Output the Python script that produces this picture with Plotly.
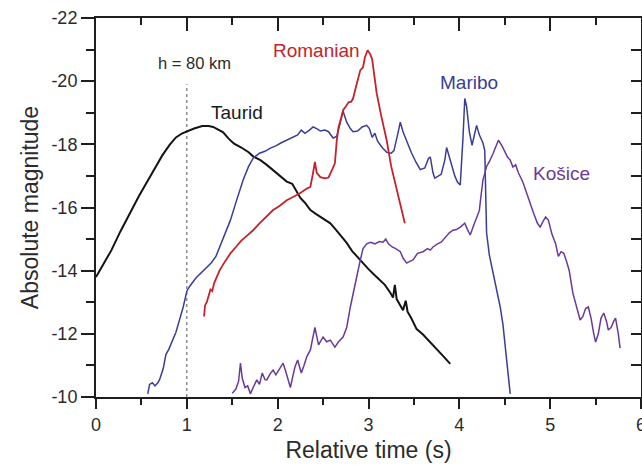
import plotly.graph_objects as go

# Light curves: relative time (s) vs absolute magnitude
taurid_t = [0.00, 0.08, 0.17, 0.27, 0.37, 0.47, 0.59, 0.66, 0.73, 0.81, 0.88, 0.95, 1.01, 1.08,
            1.17, 1.24, 1.29, 1.35, 1.40, 1.46, 1.52, 1.60, 1.68, 1.73, 1.81, 1.88, 1.94, 1.99,
            2.06, 2.10, 2.16, 2.20, 2.25, 2.30, 2.36, 2.42, 2.47, 2.53, 2.58, 2.64, 2.70, 2.76,
            2.82, 2.88, 2.94, 3.00, 3.06, 3.12, 3.18, 3.24, 3.27, 3.29, 3.31, 3.35, 3.38, 3.41,
            3.43, 3.47, 3.53, 3.60, 3.68, 3.75, 3.82, 3.90]
taurid_m = [-13.80, -14.20, -14.65, -15.25, -15.80, -16.35, -16.95, -17.30, -17.65, -17.98,
            -18.22, -18.35, -18.42, -18.50, -18.58, -18.58, -18.55, -18.45, -18.38, -18.18,
            -18.02, -17.90, -17.75, -17.62, -17.50, -17.35, -17.20, -17.09, -16.92, -16.82,
            -16.75, -16.55, -16.30, -16.15, -15.92, -15.80, -15.70, -15.60, -15.50, -15.30,
            -15.10, -14.88, -14.62, -14.42, -14.24, -14.05, -13.88, -13.72, -13.55, -13.30,
            -13.15, -13.55, -13.10, -12.90, -12.75, -13.05, -12.70, -12.50, -12.15, -11.98,
            -11.72, -11.50, -11.30, -11.05]

maribo_t = [0.57, 0.59, 0.62, 0.65, 0.68, 0.70, 0.74, 0.77, 0.80, 0.84, 0.88, 0.92, 0.96, 1.00,
            1.03, 1.10, 1.18, 1.27, 1.32, 1.37, 1.42, 1.48, 1.55, 1.62, 1.68, 1.73, 1.80, 1.86,
            1.92, 1.98, 2.04, 2.10, 2.16, 2.22, 2.26, 2.30, 2.35, 2.39, 2.43, 2.47, 2.52, 2.56,
            2.61, 2.65, 2.69, 2.72, 2.76, 2.80, 2.83, 2.88, 2.93, 2.98, 3.01, 3.04, 3.07, 3.10,
            3.15, 3.20, 3.25, 3.28, 3.32, 3.35, 3.38, 3.42, 3.47, 3.52, 3.57, 3.62, 3.66, 3.68,
            3.71, 3.73, 3.77, 3.80, 3.84, 3.86, 3.89, 3.92, 3.95, 3.98, 4.01, 4.04, 4.06, 4.08,
            4.11, 4.14, 4.17, 4.19, 4.22, 4.26, 4.28, 4.30, 4.33, 4.36, 4.40, 4.45, 4.48, 4.50,
            4.53, 4.56]
maribo_m = [-10.10, -10.40, -10.45, -10.35, -10.45, -10.55, -10.90, -11.35, -11.50, -11.75,
            -12.05, -12.45, -12.85, -13.35, -13.50, -13.77, -14.00, -14.25, -14.45, -14.80,
            -15.20, -15.60, -16.25, -16.87, -17.30, -17.56, -17.72, -17.78, -17.88, -17.95,
            -18.05, -18.13, -18.20, -18.30, -18.45, -18.35, -18.45, -18.55, -18.50, -18.42,
            -18.45, -18.40, -18.20, -18.25, -18.70, -19.05, -18.70, -18.50, -18.40, -18.42,
            -18.55, -18.60, -18.50, -18.22, -18.35, -18.10, -17.90, -17.75, -17.72, -17.80,
            -18.30, -18.70, -18.40, -18.10, -17.75, -17.45, -17.20, -17.25, -17.55, -17.60,
            -17.10, -16.93, -17.00, -17.05, -17.50, -17.90, -17.60, -17.30, -17.00, -16.80,
            -16.71, -18.20, -19.45, -19.20, -18.40, -17.97, -18.40, -18.60, -18.30, -18.04,
            -17.80, -15.20, -14.50, -14.11, -13.50, -12.85, -12.30, -11.80, -11.00, -10.10]

romanian_t = [1.19, 1.20, 1.22, 1.24, 1.26, 1.28, 1.30, 1.33, 1.36, 1.40, 1.43, 1.48, 1.54, 1.60,
              1.66, 1.73, 1.80, 1.87, 1.95, 2.02, 2.10, 2.18, 2.25, 2.32, 2.36, 2.39, 2.41, 2.43,
              2.47, 2.52, 2.56, 2.60, 2.63, 2.65, 2.67, 2.70, 2.72, 2.75, 2.78, 2.81, 2.83, 2.86,
              2.88, 2.91, 2.94, 2.96, 2.99, 3.02, 3.04, 3.07, 3.09, 3.14, 3.20, 3.25, 3.31, 3.36,
              3.40]
romanian_m = [-12.55, -12.90, -13.00, -13.20, -13.40, -13.35, -13.60, -13.80, -14.00, -14.20,
              -14.34, -14.55, -14.75, -14.95, -15.10, -15.28, -15.50, -15.70, -15.92, -16.05,
              -16.23, -16.35, -16.46, -16.60, -16.65, -17.10, -17.44, -17.10, -16.96, -16.92,
              -16.95, -17.20, -17.40, -18.10, -18.54, -18.85, -19.08, -19.20, -19.33, -19.35,
              -19.45, -19.80, -20.00, -20.35, -20.44, -20.75, -20.98, -20.85, -20.70, -20.10,
              -19.62, -18.90, -18.13, -17.30, -16.55, -16.00, -15.50]

kosice_t = [1.50, 1.54, 1.57, 1.59, 1.61, 1.64, 1.67, 1.70, 1.73, 1.77, 1.80, 1.83, 1.86, 1.88,
            1.92, 1.95, 1.98, 2.03, 2.06, 2.09, 2.12, 2.14, 2.17, 2.19, 2.22, 2.26, 2.29, 2.32,
            2.36, 2.39, 2.41, 2.45, 2.48, 2.50, 2.54, 2.58, 2.63, 2.67, 2.72, 2.76, 2.80, 2.83,
            2.87, 2.91, 2.94, 2.98, 3.02, 3.07, 3.12, 3.16, 3.19, 3.22, 3.26, 3.30, 3.35, 3.38,
            3.42, 3.46, 3.49, 3.54, 3.60, 3.65, 3.68, 3.71, 3.76, 3.80, 3.85, 3.89, 3.93, 3.97,
            4.01, 4.06, 4.09, 4.12, 4.16, 4.19, 4.22, 4.24, 4.26, 4.30, 4.33, 4.37, 4.40, 4.43,
            4.47, 4.50, 4.53, 4.56, 4.59, 4.62, 4.65, 4.70, 4.74, 4.78, 4.82, 4.86, 4.89, 4.92,
            4.95, 4.98, 5.02, 5.06, 5.09, 5.12, 5.15, 5.18, 5.21, 5.25, 5.29, 5.33, 5.36, 5.39,
            5.42, 5.45, 5.48, 5.50, 5.53, 5.56, 5.59, 5.62, 5.64, 5.67, 5.70, 5.72, 5.75, 5.77]
kosice_m = [-10.12, -10.25, -10.50, -11.07, -10.60, -10.30, -10.35, -10.10, -10.30, -10.54,
            -10.40, -10.76, -10.55, -10.54, -10.75, -10.85, -10.70, -10.95, -11.07, -10.80,
            -10.50, -10.30, -10.70, -10.95, -11.17, -10.76, -11.00, -11.27, -11.49, -11.90,
            -12.20, -11.65, -11.80, -11.90, -11.75, -11.80, -11.58, -11.75, -11.90, -12.20,
            -12.85, -13.30, -13.80, -14.34, -14.70, -14.85, -14.90, -14.85, -14.92, -14.90,
            -15.00, -14.85, -14.75, -14.70, -14.60, -14.40, -14.24, -14.30, -14.34, -14.55,
            -14.60, -14.70, -14.65, -14.75, -14.85, -14.90, -15.05, -15.20, -15.28, -15.30,
            -15.38, -15.50, -15.30, -15.13, -15.45, -15.70, -15.90, -16.40, -16.87, -17.30,
            -17.45, -17.70, -17.95, -18.13, -17.95, -17.75, -17.60, -17.50, -17.28, -17.35,
            -17.10, -16.80, -16.45, -16.14, -15.80, -15.50, -15.38, -15.55, -15.70, -15.60,
            -15.15, -14.85, -14.45, -14.60, -14.55, -14.30, -14.00, -13.29, -12.90, -12.44,
            -12.55, -12.80, -12.85, -12.50, -12.00, -11.74, -12.00, -12.50, -12.66, -12.40,
            -12.12, -12.20, -12.40, -12.50, -12.00, -11.55]

# Reference height marker
h80_t = [1.0, 1.0]
h80_m = [-10.0, -19.9]

x_ticks = [0, 1, 2, 3, 4, 5, 6]
x_labels = ["0", "1", "2", "3", "4", "5", "6"]
y_ticks = [-22, -20, -18, -16, -14, -12, -10]
y_labels = ["-22", "-20", "-18", "-16", "-14", "-12", "-10"]

FONT = "Liberation Sans, Arial, Helvetica, sans-serif"
TEXT = "#2b2b2b"
AXIS = "#1e1e1e"

series = [
    ("Taurid", taurid_t, taurid_m, "#141414", 2.0),
    ("Maribo", maribo_t, maribo_m, "#3a3d96", 1.5),
    ("Romanian", romanian_t, romanian_m, "#c4232b", 1.8),
    ("Košice", kosice_t, kosice_m, "#6a3a98", 1.5),
]

fig = go.Figure()

fig.add_trace(go.Scatter(x=h80_t, y=h80_m, mode="lines",
                         line=dict(color="#555555", width=1, dash="dot"),
                         showlegend=False, hoverinfo="skip"))

for name, t, m, color, w in series:
    fig.add_trace(go.Scatter(x=t, y=m, mode="lines", name=name,
                             line=dict(color=color, width=w),
                             showlegend=False))

# invisible trace so the mirrored top/right axes are drawn
fig.add_trace(go.Scatter(x=[0], y=[-10], xaxis="x2", yaxis="y2", mode="markers",
                         marker=dict(opacity=0), showlegend=False, hoverinfo="skip"))

labels = [
    ("h = 80 km", 1.085, -20.57, TEXT, 16.5),
    ("Taurid", 1.55, -19.0, "#1a1a1a", 19),
    ("Romanian", 2.43, -20.97, "#c4232b", 19),
    ("Maribo", 4.11, -19.97, "#3a3d96", 19),
    ("Košice", 5.13, -17.09, "#6a3a98", 19),
]
for text, x, y, color, size in labels:
    fig.add_annotation(x=x, y=y, text=text, showarrow=False,
                       font=dict(family=FONT, size=size, color=color),
                       xanchor="center", yanchor="middle")

fig.update_layout(
    width=642, height=465,
    margin=dict(l=96, r=1, t=18, b=68),
    paper_bgcolor="white", plot_bgcolor="white",
    font=dict(family=FONT, color=TEXT),
    xaxis=dict(
        range=[0, 6], tickvals=x_ticks, ticktext=x_labels,
        showgrid=False, zeroline=False, automargin=False,
        showline=True, linecolor=AXIS, linewidth=2,
        ticks="outside", ticklen=10, tickwidth=2, tickcolor=AXIS,
        minor=dict(dtick=0.5, ticklen=6, tickwidth=2, tickcolor=AXIS, ticks="outside"),
        tickfont=dict(size=18, color=TEXT), ticklabeloverflow="allow",
        title=dict(text="Relative time (s)", font=dict(size=23, color=TEXT), standoff=8),
    ),
    yaxis=dict(
        range=[-10, -22], tickvals=y_ticks, ticktext=y_labels,
        showgrid=False, zeroline=False, automargin=False,
        showline=True, linecolor=AXIS, linewidth=2,
        ticks="outside", ticklen=13, tickwidth=2, tickcolor=AXIS,
        minor=dict(dtick=1, ticklen=8, tickwidth=2, tickcolor=AXIS, ticks="outside"),
        tickfont=dict(size=18, color=TEXT),
        title=dict(text="Absolute magnitude", font=dict(size=23, color=TEXT), standoff=6),
    ),
    xaxis2=dict(
        overlaying="x", side="top", anchor="y", range=[0, 6],
        showgrid=False, zeroline=False, showticklabels=False, automargin=False,
        showline=True, linecolor=AXIS, linewidth=2,
        ticks="inside", dtick=1, tick0=0, ticklen=13, tickwidth=2, tickcolor=AXIS,
        minor=dict(dtick=0.5, ticklen=7, tickwidth=2, tickcolor=AXIS, ticks="inside"),
    ),
    yaxis2=dict(
        overlaying="y", side="right", anchor="x", range=[-10, -22],
        showgrid=False, zeroline=False, showticklabels=False, automargin=False,
        showline=True, linecolor=AXIS, linewidth=2,
        ticks="inside", dtick=1, tick0=0, ticklen=10, tickwidth=2, tickcolor=AXIS,
    ),
)

fig.write_html("out.html")
